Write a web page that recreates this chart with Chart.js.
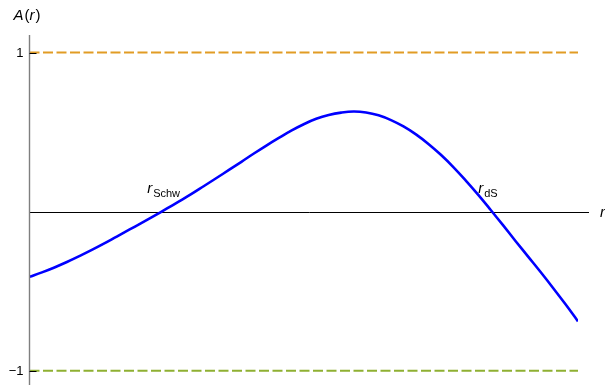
<!DOCTYPE html>
<html>
<head>
<meta charset="utf-8">
<script src="https://cdn.jsdelivr.net/npm/chart.js@4/dist/chart.umd.min.js"></script>
<style>
  html, body { margin: 0; padding: 0; background: #fff; }
  #wrap { width: 605px; height: 385px; position: relative; }
</style>
</head>
<body>
<div id="wrap"><canvas id="chart"></canvas></div>
<script>
// ---- Data (r in arbitrary units, A(r) in [-1, 1]) ----
const rValues = [0, 0.125, 0.25, 0.375, 0.5, 0.625, 0.75, 0.875, 1.0, 1.125,
                 1.25, 1.375, 1.5, 1.625, 1.75, 1.875, 2.0, 2.125, 2.25, 2.375,
                 2.5, 2.625, 2.75, 2.875, 3.0, 3.125, 3.25, 3.375, 3.5, 3.625,
                 3.75, 3.875, 4.0, 4.125, 4.25, 4.375, 4.5, 4.625, 4.75, 4.875,
                 5.0, 5.125, 5.25, 5.375, 5.5];
const aValues = [-0.41, -0.382, -0.351, -0.317, -0.28, -0.241, -0.2, -0.157, -0.114, -0.071,
                 -0.027, 0.018, 0.064, 0.111, 0.161, 0.211, 0.262, 0.313, 0.365, 0.415,
                 0.463, 0.509, 0.549, 0.583, 0.607, 0.622, 0.629, 0.623, 0.605, 0.575,
                 0.535, 0.485, 0.425, 0.357, 0.28, 0.195, 0.105, 0.01, -0.087, -0.186,
                 -0.283, -0.380, -0.480, -0.583, -0.69];
const upperBound = [1, 1];
const lowerBound = [-1, -1];
const boundR = [0, 5.5];
const yTicks = [1, -1];
const yTickLabels = ["1", "\u22121"];
const markers = [
    { r: 1.31, base: "r", sub: "Schw" },
    { r: 4.63, base: "r", sub: "dS" },
];

const COLORS = {
    curve:  "#0000ff",
    orange: "#e19c24",
    green:  "#8fb032",
    yaxis:  "#7f7f7f",
    text:   "#000000",
};

const FONT = "'Liberation Sans', Arial, sans-serif";

const toPoints = (xs, ys) => xs.map((x, i) => ({ x: x, y: ys[i] }));

// ---- Axes, ticks and labels drawn from the chart's own scales ----
const axesPlugin = {
    id: "mmaAxes",
    beforeDatasetsDraw(chart) {
        const { ctx, scales: { x, y } } = chart;
        const x0 = x.getPixelForValue(0);
        const y0 = y.getPixelForValue(0);
        ctx.save();
        // horizontal axis
        ctx.strokeStyle = "#000";
        ctx.lineWidth = 1;
        ctx.beginPath();
        ctx.moveTo(x0, Math.round(y0) + 0.5);
        ctx.lineTo(x.right + 11, Math.round(y0) + 0.5);
        ctx.stroke();
        ctx.restore();
    },
    afterDatasetsDraw(chart) {
        const { ctx, scales: { x, y } } = chart;
        const x0 = x.getPixelForValue(0);
        const y0 = y.getPixelForValue(0);
        ctx.save();
        // vertical axis
        ctx.strokeStyle = COLORS.yaxis;
        ctx.lineWidth = 1.4;
        ctx.beginPath();
        ctx.moveTo(x0, y.top);
        ctx.lineTo(x0, y.bottom);
        ctx.stroke();
        // ticks and tick labels
        ctx.strokeStyle = "#000";
        ctx.lineWidth = 1;
        ctx.fillStyle = COLORS.text;
        ctx.font = "13px " + FONT;
        ctx.textAlign = "right";
        ctx.textBaseline = "middle";
        yTicks.forEach((v, i) => {
            const py = Math.round(y.getPixelForValue(v)) + 0.5;
            ctx.beginPath();
            ctx.moveTo(x0, py);
            ctx.lineTo(x0 + 7, py);
            ctx.stroke();
            ctx.fillText(yTickLabels[i], x0 - 6, py);
        });
        // axis labels
        ctx.textAlign = "left";
        ctx.textBaseline = "alphabetic";
        let lx = x0 - 16;
        [["A", true], ["(", false], ["r", true], [")", false]].forEach(([s, it]) => {
            ctx.font = (it ? "italic " : "") + "15px " + FONT;
            ctx.fillText(s, lx, 20);
            lx += ctx.measureText(s).width + (it ? 1 : 0);
        });

        ctx.font = "italic 15px " + FONT;
        ctx.fillText("r", x.right + 22, y0 + 5);

        // root markers
        markers.forEach(m => {
            const px = x.getPixelForValue(m.r);
            const bx = px - 13;
            const by = y0 - 19;
            ctx.font = "italic 15px " + FONT;
            ctx.fillText(m.base, bx, by);
            const w = ctx.measureText(m.base).width;
            ctx.font = "11px " + FONT;
            ctx.fillText(m.sub, bx + w + 1, by + 4);
        });
        ctx.restore();
    },
};

new Chart(document.getElementById("chart"), {
    type: "line",
    data: {
        datasets: [
            {
                label: "A(r)",
                data: toPoints(rValues, aValues),
                borderColor: COLORS.curve,
                borderWidth: 2.6,
                pointRadius: 0,
                tension: 0.4,
                fill: false,
                order: 0,
            },
            {
                label: "1",
                data: toPoints(boundR, upperBound),
                borderColor: COLORS.orange,
                borderWidth: 2,
                borderDash: [10, 3.5],
                pointRadius: 0,
                fill: false,
                order: 1,
            },
            {
                label: "-1",
                data: toPoints(boundR, lowerBound),
                borderColor: COLORS.green,
                borderWidth: 2,
                borderDash: [10, 3.5],
                pointRadius: 0,
                fill: false,
                order: 1,
            },
        ],
    },
    options: {
        responsive: true,
        maintainAspectRatio: false,
        animation: false,
        layout: { padding: { left: 29.5, right: 27, top: 35, bottom: 0 } },
        plugins: { legend: { display: false }, tooltip: { enabled: false } },
        scales: {
            x: { type: "linear", min: 0, max: 5.5, display: false },
            y: { type: "linear", min: -1.09, max: 1.11, display: false },
        },
    },
    plugins: [axesPlugin],
});
</script>
</body>
</html>
